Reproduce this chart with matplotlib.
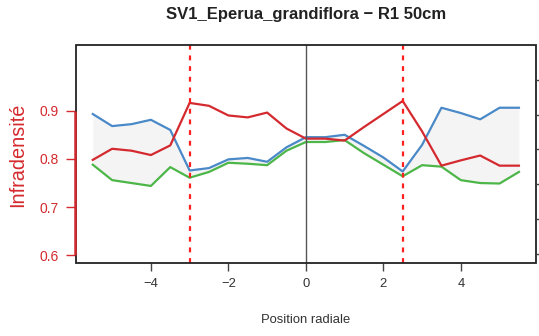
import matplotlib
matplotlib.use("Agg")
import matplotlib.pyplot as plt
import matplotlib.transforms as mtransforms
from matplotlib.patches import Rectangle

plt.rcParams['font.family'] = ['Liberation Sans', 'DejaVu Sans']

# radial positions (cm)
position = [-5.5, -5.0, -4.5, -4.0, -3.5, -3.0, -2.5, -2.0, -1.5, -1.0, -0.5, 0.0,
            0.5, 1.0, 1.5, 2.0, 2.5, 3.0, 3.5, 4.0, 4.5, 5.0, 5.5]

infradensite = [0.798, 0.821, 0.817, 0.808, 0.828, 0.916, 0.910, 0.890, 0.886, 0.896, 0.863, 0.842,
                0.842, 0.838, 0.866, 0.893, 0.920, 0.857, 0.786, 0.797, 0.807, 0.786, 0.786]
upper = [0.893, 0.868, 0.872, 0.881, 0.860, 0.776, 0.781, 0.799, 0.802, 0.794, 0.824, 0.845,
         0.845, 0.850, 0.827, 0.803, 0.774, 0.829, 0.906, 0.895, 0.882, 0.906, 0.906]
lower = [0.788, 0.756, 0.750, 0.744, 0.783, 0.761, 0.773, 0.792, 0.790, 0.787, 0.817, 0.835,
         0.835, 0.839, 0.812, 0.788, 0.764, 0.787, 0.784, 0.756, 0.750, 0.749, 0.773]

limits = [-3.0, 2.5]
yticks = [0.6, 0.7, 0.8, 0.9]
xticks = [-4, -2, 0, 2, 4]

red = '#d42a2f'
blue = '#4a89c8'
green = '#4db648'
grey_txt = '#333333'

fig = plt.figure(figsize=(5.39, 3.36), dpi=100)
ax = fig.add_axes([0.1405, 0.2182, 0.8539, 0.6479])

ax.fill_between(position, lower, upper, color='#f4f4f4', lw=0)
ax.plot(position, upper, color=blue, lw=1.6, solid_joinstyle='round')
ax.plot(position, lower, color=green, lw=1.6, solid_joinstyle='round')
ax.plot(position, infradensite, color=red, lw=1.6, solid_joinstyle='round')

ax.axvline(0, color='#555555', lw=1.0)
for lim in limits:
    ax.axvline(lim, color='#ff2020', lw=1.6, linestyle=(0, (2.2, 2.6)))

ax.set_xlim(-5.94, 5.94)
ax.set_ylim(0.585, 1.036)

# frame
for s in ax.spines.values():
    s.set_visible(False)
ax.add_patch(Rectangle((0, 0), 1, 1, transform=ax.transAxes, fill=False,
                       ec='#222222', lw=1.3, clip_on=False, zorder=5))
# red y axis line between first and last tick, drawn over the frame
axis_tr = mtransforms.blended_transform_factory(ax.transAxes, ax.transData)
ax.plot([-0.001, -0.001], [yticks[0], yticks[-1]], transform=axis_tr, color=red,
        lw=1.8, clip_on=False, zorder=7, solid_capstyle='butt')

ax.set_yticks(yticks)
ax.set_yticklabels([str(v) for v in yticks])
ax.tick_params(axis='y', colors=red, length=7, width=1.0, pad=5, labelsize=10)
ax.set_xticks(xticks)
ax.set_xticklabels([str(v).replace('-', '\u2212') for v in xticks])
ax.tick_params(axis='x', colors='#444444', labelcolor=grey_txt, length=6, width=1.0,
               pad=5, labelsize=9.4)

# unlabeled secondary axis on the right
ax2 = ax.twinx()
ax2.set_ylim(-0.25, 6.0)
ax2.set_yticks(range(6))
ax2.set_yticklabels([])
ax2.tick_params(axis='y', colors='#444444', length=6, width=1.0)
for s in ax2.spines.values():
    s.set_visible(False)

ax.text(0.5, -0.263, 'Position radiale', transform=ax.transAxes, ha='center',
        va='center', fontsize=9.4, color=grey_txt)
fig.text(0.032, 0.5405, 'Infradensit\u00e9', rotation=90, ha='center', va='center',
         fontsize=14.3, color=red)
fig.text(0.5678, 0.957, 'SV1_Eperua_grandiflora \u2212 R1 50cm', ha='center', va='center',
         fontsize=12, fontweight='bold', color='#222222')

fig.savefig('out.png', dpi=100)
